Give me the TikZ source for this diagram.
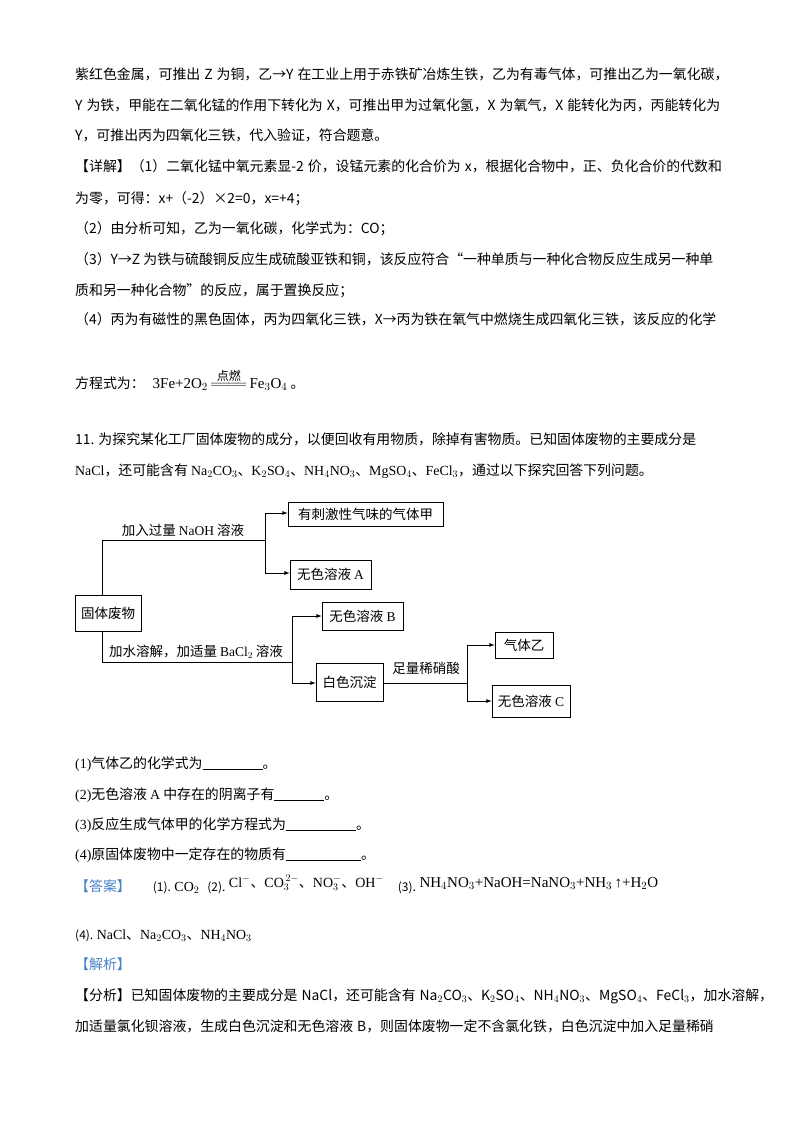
\documentclass[tikz,border=0pt]{standalone}
\usepackage{fontspec}
\usepackage{graphicx}
\setmainfont{Noto Sans CJK SC}
\newfontfamily\tms{Liberation Serif}
\newfontfamily\cjk{Noto Sans CJK SC}
\XeTeXlinebreaklocale "zh"
\XeTeXlinebreakskip=0pt plus 1fil
\definecolor{ansblue}{RGB}{70,130,200}
\newcommand{\fl}[1]{\makebox[658pt][s]{\spaceskip=4pt\xspaceskip=4pt #1}}
\newcommand{\bl}[1]{\underline{\hspace{#1}}}
\newcommand{\dn}{{\cjk 、}}
\begin{document}
\begin{tikzpicture}[x=1pt,y=-1pt,
  tl/.style={anchor=base west,inner sep=0pt,font=\fontsize{13.9}{14}\selectfont},
  bx/.style={draw,thick,inner sep=0pt,font=\fontsize{13.5}{14}\selectfont},
  lb/.style={inner sep=0pt,font=\fontsize{13.5}{14}\selectfont},
  ln/.style={thick},
  ar/.style={thick,-latex}]
\useasboundingbox[fill=white] (0,0) rectangle (800,1132);
\node[tl] (l1) at (75,80) {\fl{紫红色金属，可推出 Z 为铜，乙→Y 在工业上用于赤铁矿冶炼生铁，乙为有毒气体，可推出乙为一氧化碳，}};
\node[tl] (l2) at (75,110) {\fl{Y 为铁，甲能在二氧化锰的作用下转化为 X，可推出甲为过氧化氢，X 为氧气，X 能转化为丙，丙能转化为}};
\node[tl] (l3) at (75,140) {Y，可推出丙为四氧化三铁，代入验证，符合题意。};
\node[tl] (l4) at (75,171) {\fl{【详解】（1）二氧化锰中氧元素显-2 价，设锰元素的化合价为 \textit{x}，根据化合物中，正、负化合价的代数和}};
\node[tl] (l5) at (75,203) {为零，可得：\textit{x}+（-2）×2=0，\textit{x}=+4；};
\node[tl] (l6) at (75,233) {（2）由分析可知，乙为一氧化碳，化学式为：CO；};
\node[tl] (l7) at (75,264) {（3）Y→Z 为铁与硫酸铜反应生成硫酸亚铁和铜，该反应符合“一种单质与一种化合物反应生成另一种单};
\node[tl] (l8) at (75,295) {质和另一种化合物”的反应，属于置换反应；};
\node[tl] (l9) at (75,324) {（4）丙为有磁性的黑色固体，丙为四氧化三铁，X→丙为铁在氧气中燃烧生成四氧化三铁，该反应的化学};
\node[tl] (l10) at (75,388) {方程式为：\hspace{8pt}{\tms\fontsize{15}{15}\selectfont 3Fe+2O$_2$\,$\mathop{=\!=\!=\!=}\limits^{\hbox{\cjk\fontsize{12}{12}\selectfont 点燃}}$\,Fe$_3$O$_4$}\ 。};
\node[tl] (l11) at (75,444) {\fl{11. 为探究某化工厂固体废物的成分，以便回收有用物质，除掉有害物质。已知固体废物的主要成分是}};
\node[tl] (l12) at (75,475) {{\tms NaCl}，还可能含有 {\tms Na$_2$CO$_3$\dn K$_2$SO$_4$\dn NH$_4$NO$_3$\dn MgSO$_4$\dn FeCl$_3$}，通过以下探究回答下列问题。};
% diagram
\node[bx,minimum width=66,minimum height=36] (gt) at (108,613) {固体废物};
\node[bx,minimum width=155,minimum height=24] (jia) at (365.5,514) {有刺激性气味的气体甲};
\node[bx,minimum width=81,minimum height=29] (A) at (330.5,574.5) {无色溶液 {\tms A}};
\node[bx,minimum width=81,minimum height=28] (B) at (362.5,616) {无色溶液 {\tms B}};
\node[bx,minimum width=67,minimum height=38] (bs) at (349.5,682) {白色沉淀};
\node[bx,minimum width=58,minimum height=26] (yi) at (524,645) {气体乙};
\node[bx,minimum width=78,minimum height=32] (C) at (531,701) {无色溶液 {\tms C}};
\coordinate (t1) at (102,540); \coordinate (t2) at (265,540);
\coordinate (t3) at (265,513); \coordinate (t4) at (265,573);
\draw[ln] (gt.north -| t1) -- (t1) -- (t2);
\draw[ar] (t3) -- (jia.west |- t3);
\draw[ar] (t3) -- (t4) -- (A.west |- t4);
\node[lb,anchor=base] (la) at (183,535) {加入过量 {\tms NaOH} 溶液};
\coordinate (b1) at (102,662); \coordinate (b2) at (292,662);
\coordinate (b3) at (292,616); \coordinate (b4) at (292,683);
\draw[ln] (gt.south -| b1) -- (b1) -- (b2);
\draw[ar] (b3) -- (B.west |- b3);
\draw[ar] (b3) -- (b4) -- (bs.west |- b4);
\node[lb,anchor=base] (lb2) at (196,656) {加水溶解，加适量 {\tms BaCl$_2$} 溶液};
\coordinate (c1) at (467,683); \coordinate (c2) at (467,645); \coordinate (c3) at (467,701);
\draw[ln] (bs.east |- c1) -- (c1);
\draw[ar] (c2) -- (yi.west |- c2);
\draw[ar] (c2) -- (c3) -- (C.west);
\node[lb,anchor=base] (lc) at (426,673) {足量稀硝酸};
% questions
\node[tl] (q1) at (75,768) {{\tms (1)}气体乙的化学式为\bl{60pt}。};
\node[tl] (q2) at (75,799) {{\tms (2)}无色溶液 {\tms A} 中存在的阴离子有\bl{50pt}。};
\node[tl] (q3) at (75,829) {{\tms (3)}反应生成气体甲的化学方程式为\bl{70pt}。};
\node[tl] (q4) at (75,859) {{\tms (4)}原固体废物中一定存在的物质有\bl{75pt}。};
\node[tl] (ans) at (75,891) {\textcolor{ansblue}{【答案】}\hspace{22pt}{\fontsize{12}{12}\selectfont (1). }{\tms CO$_2$}\hspace{8pt}{\fontsize{12}{12}\selectfont (2). }\raisebox{4pt}{\tms\fontsize{14}{14}\selectfont Cl$^-$\dn CO$_3^{\,2-}$\dn NO$_3^-$\dn OH$^-$}\hspace{14pt}{\fontsize{12}{12}\selectfont (3). }\raisebox{4pt}{\tms\fontsize{15}{15}\selectfont NH$_4$NO$_3$+NaOH=NaNO$_3$+NH$_3$\,↑+H$_2$O}};
\node[tl] (a4) at (75,939) {{\fontsize{12}{12}\selectfont (4). }{\tms NaCl\dn Na$_2$CO$_3$\dn NH$_4$NO$_3$}};
\node[tl] (jx) at (75,969) {\textcolor{ansblue}{【解析】}};
\node[tl] (f1) at (75,1000) {\fl{【分析】已知固体废物的主要成分是 NaCl，还可能含有 Na$_2$CO$_3$、K$_2$SO$_4$、NH$_4$NO$_3$、MgSO$_4$、FeCl$_3$，加水溶解，}};
\node[tl] (f2) at (75,1031) {\fl{加适量氯化钡溶液，生成白色沉淀和无色溶液 B，则固体废物一定不含氯化铁，白色沉淀中加入足量稀硝}};
\end{tikzpicture}
\end{document}
